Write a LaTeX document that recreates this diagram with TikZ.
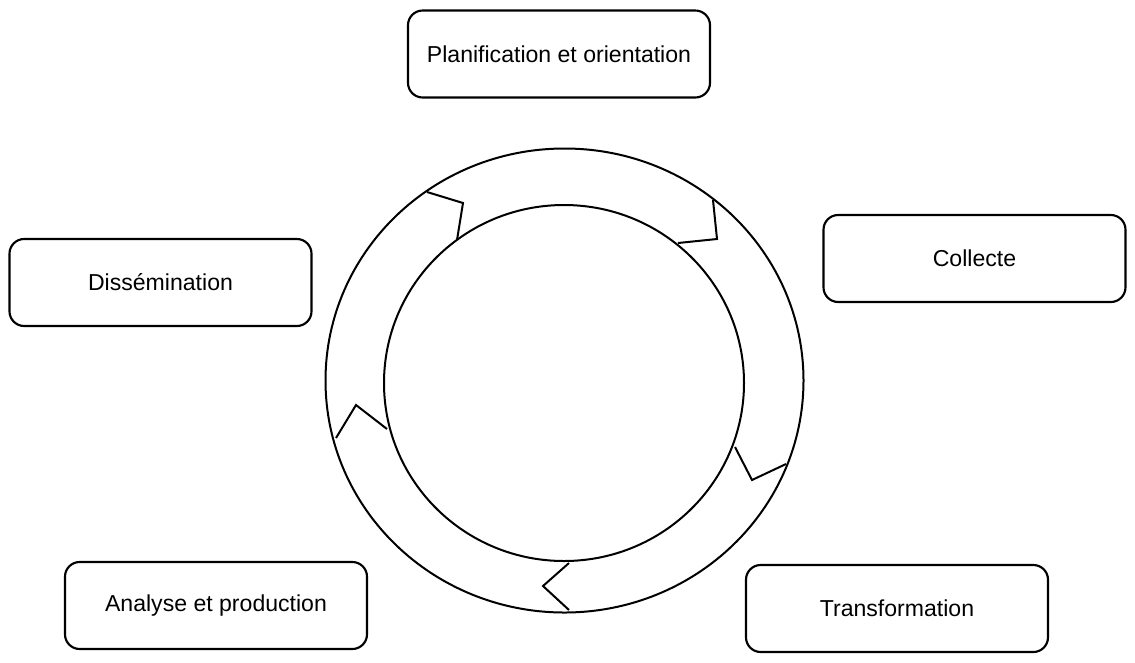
\documentclass[tikz,border=0pt]{standalone}
\usepackage{fontspec}
\setmainfont{Liberation Sans}
\begin{document}
\begin{tikzpicture}[x=0.75pt,y=-0.75pt,
  box/.style={draw, line width=1.6pt, rounded corners=11pt, minimum width=226.5pt, minimum height=65.25pt, inner sep=0pt, font=\fontsize{17.3}{20}\selectfont},
  ring/.style={draw, line width=1.5pt},
  chev/.style={draw, line width=1.5pt, line join=miter}]
\useasboundingbox (0,0) rectangle (1135,662);

% boxes
\node[box] (plan) at (559,54) {Planification et orientation};
\node[box] (coll) at (974.5,258.5) {Collecte};
\node[box] (diss) at (160.5,282.5) {Dissémination};
\node[box] (anal) at (216,605.5) {Analyse et production};
\node[box] (trans) at (897,608.5) {Transformation};

% ring
\coordinate (c) at (564.5,380.5);
\coordinate (ci) at (564,383);
\draw[ring] (c) ellipse [x radius=179.25pt, y radius=174pt];
\draw[ring] (ci) ellipse [x radius=135pt, y radius=133.5pt];

% chevrons
\coordinate (a1) at (427,192); \coordinate (b1) at (463,203); \coordinate (d1) at (457,240);
\coordinate (a2) at (713,200); \coordinate (b2) at (717,239); \coordinate (d2) at (678,243);
\coordinate (a3) at (735,447); \coordinate (b3) at (752,480); \coordinate (d3) at (786,464);
\coordinate (a4) at (569,563); \coordinate (b4) at (543,586); \coordinate (d4) at (569,610);
\coordinate (a5) at (387,429); \coordinate (b5) at (356,405); \coordinate (d5) at (336,438);
\draw[chev] (a1) -- (b1) -- (d1);
\draw[chev] (a2) -- (b2) -- (d2);
\draw[chev] (a3) -- (b3) -- (d3);
\draw[chev] (a4) -- (b4) -- (d4);
\draw[chev] (a5) -- (b5) -- (d5);
\end{tikzpicture}
\end{document}
